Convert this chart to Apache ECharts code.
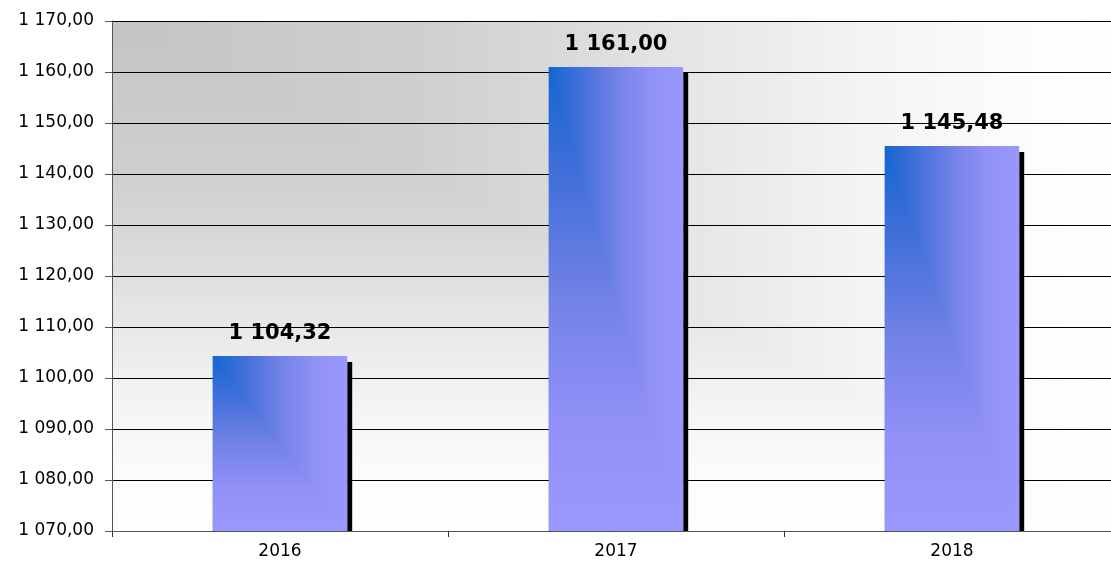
<!DOCTYPE html>
<html>
<head>
<meta charset="utf-8">
<title>Chart</title>
<script src="https://cdn.jsdelivr.net/npm/echarts@6/dist/echarts.min.js"></script>
<style>
html, body { margin: 0; padding: 0; background: #fff; }
#chart { width: 1111px; height: 563px; }
</style>
</head>
<body>
<div id="chart"></div>
<script>
// данные
var years = ['2016', '2017', '2018'];
var values = [1104.32, 1161.00, 1145.48];
var yMin = 1070;
var yMax = 1170;
var yStep = 10;

var font = '"DejaVu Sans", "Liberation Sans", sans-serif';

// 1 170,00
function fmt(v) {
  var parts = Number(v).toFixed(2).split('.');
  var intPart = parts[0].replace(/\B(?=(\d{3})+(?!\d))/g, ' ');
  return intPart + ',' + parts[1];
}

// градиент "из угла" - две половинки
var barStops = [
  { offset: 0, color: '#1565d0' },
  { offset: 0.25, color: '#4470da' },
  { offset: 0.5, color: '#7282e6' },
  { offset: 0.75, color: '#9090f6' },
  { offset: 1, color: '#9898fd' }
];

var bgStops = [
  { offset: 0, color: '#c4c4c4' },
  { offset: 0.3, color: '#cfcfcf' },
  { offset: 0.45, color: '#dadada' },
  { offset: 0.55, color: '#e4e4e4' },
  { offset: 0.65, color: '#ececec' },
  { offset: 0.75, color: '#f4f4f4' },
  { offset: 0.9, color: '#fcfcfc' },
  { offset: 1, color: '#ffffff' }
];

function renderBar(params, api) {
  var idx = api.value(0);
  var val = api.value(1);
  var top = api.coord([idx, val]);
  var base = api.coord([idx, yMin]);
  var w = api.size([1, 0])[0] * 0.4;
  var x0 = top[0] - w / 2;
  var h = base[1] - top[1];
  return {
    type: 'group',
    children: [
      {
        type: 'rect',
        shape: { x: x0 + w, y: top[1] + 6, width: 5, height: h - 6 },
        style: { fill: '#000' }
      },
      {
        type: 'rect',
        shape: { x: x0, y: top[1], width: w, height: h },
        style: { fill: new echarts.graphic.LinearGradient(0, 0, 1, 0, barStops) }
      },
      {
        type: 'polygon',
        shape: { points: [[x0, top[1]], [x0 + w, base[1]], [x0, base[1]]] },
        style: { fill: new echarts.graphic.LinearGradient(0, 0, 0, 1, barStops) }
      },
      {
        type: 'text',
        style: {
          text: fmt(val),
          x: top[0],
          y: top[1] - 12,
          align: 'center',
          verticalAlign: 'bottom',
          textAlign: 'center',
          textVerticalAlign: 'bottom',
          font: 'bold 21px ' + font,
          fill: '#000'
        }
      }
    ]
  };
}

// фон области построения (тоже "из угла")
var gl = 112, gt = 21, gw = 1008, gh = 510;

var chart = echarts.init(document.getElementById('chart'));
var option = {
  animation: false,
  backgroundColor: '#fff',
  grid: {
    left: gl,
    top: gt,
    width: gw,
    height: gh,
    containLabel: false,
    outerBoundsMode: 'none'
  },
  graphic: [
    {
      type: 'rect',
      z: -10,
      silent: true,
      shape: { x: gl, y: gt, width: gw, height: gh },
      style: { fill: new echarts.graphic.LinearGradient(0, 0, 1, 0, bgStops) }
    },
    {
      type: 'polygon',
      z: -9,
      silent: true,
      shape: { points: [[gl, gt], [gl + gw, gt + gh], [gl, gt + gh]] },
      style: { fill: new echarts.graphic.LinearGradient(0, 0, 0, 1, bgStops) }
    }
  ],
  xAxis: {
    type: 'category',
    data: years,
    axisLine: { show: true, lineStyle: { color: '#555', width: 1 } },
    axisTick: { show: true, length: 6, lineStyle: { color: '#333' } },
    axisLabel: { color: '#000', fontSize: 17, fontFamily: font, margin: 12 },
    splitLine: { show: false }
  },
  yAxis: {
    type: 'value',
    min: yMin,
    max: yMax,
    interval: yStep,
    axisLine: { show: true, lineStyle: { color: '#555', width: 1 } },
    axisTick: { show: true, length: 7, lineStyle: { color: '#555' } },
    axisLabel: { color: '#000', fontSize: 17, fontFamily: font, margin: 18, formatter: fmt },
    splitLine: { show: true, lineStyle: { color: '#000', width: 1 } }
  },
  series: [
    {
      type: 'custom',
      renderItem: renderBar,
      encode: { x: 0, y: 1 },
      data: years.map(function (y, i) { return [i, values[i]]; })
    }
  ]
};
chart.setOption(option);
</script>
</body>
</html>
